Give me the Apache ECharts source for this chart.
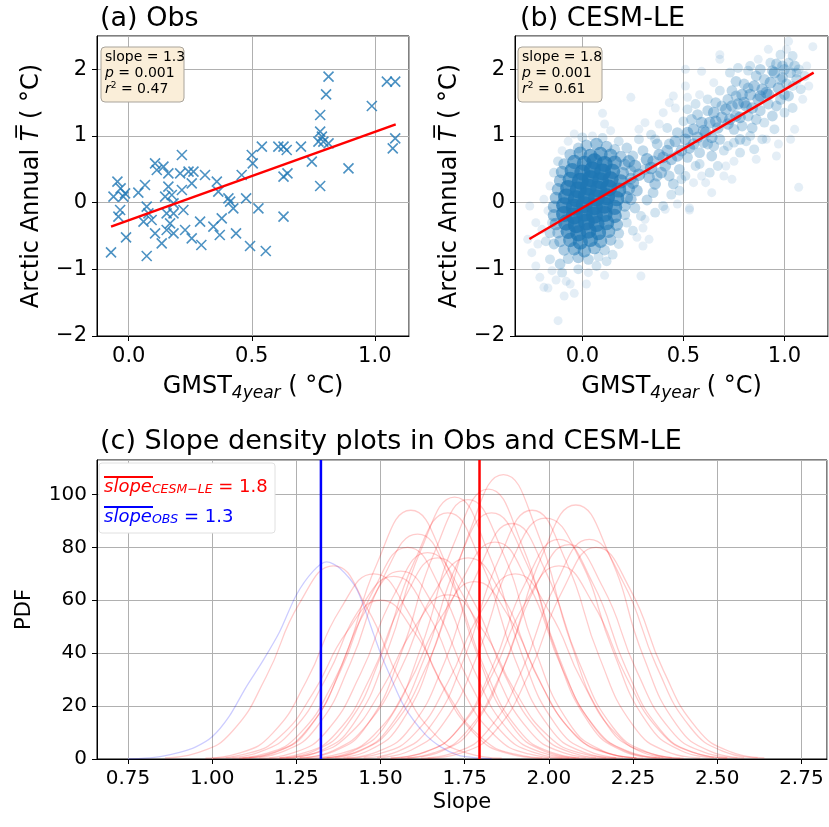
<!DOCTYPE html>
<html>
<head>
<meta charset="utf-8">
<script src="https://cdn.jsdelivr.net/npm/echarts@6/dist/echarts.min.js"></script>
<style>
html, body { margin: 0; padding: 0; background: #fff; }
#chart { width: 829px; height: 827px; }
</style>
</head>
<body>
<div id="chart"></div>
<script>
// (a) observations: GMST 4-year vs Arctic annual T anomaly
const obsX = [-0.072,-0.062,-0.046,-0.033,-0.022,-0.015,-0.035,-0.042,-0.011,0.039,0.066,0.073,0.080,0.060,0.093,0.073,0.107,0.114,0.141,0.107,0.134,0.148,0.154,0.168,0.182,0.154,0.161,0.175,0.182,0.216,0.209,0.216,0.222,0.229,0.243,0.256,0.256,0.263,0.290,0.295,0.310,0.344,0.358,0.364,0.370,0.378,0.405,0.412,0.425,0.436,0.459,0.477,0.493,0.500,0.504,0.527,0.541,0.557,0.608,0.629,0.642,0.629,0.629,0.645,0.700,0.744,0.771,0.778,0.778,0.785,0.778,0.791,0.802,0.812,0.812,0.893,0.988,1.049,1.083,1.073,1.083,0.161,0.182];
const obsY = [-0.745,0.09,0.315,0.215,0.09,0.14,-0.11,-0.21,-0.52,0.15,0.265,-0.06,-0.16,-0.285,-0.26,-0.80,0.59,0.49,0.54,-0.46,-0.61,0.09,-0.16,-0.31,-0.46,-0.41,0.44,0.115,-0.16,0.715,0.44,0.19,-0.11,-0.41,0.465,0.29,-0.535,0.465,-0.285,-0.635,0.415,-0.36,0.315,0.165,-0.485,-0.235,0.065,0.015,-0.085,-0.46,0.415,0.065,-0.65,0.715,0.59,-0.085,0.84,-0.725,0.84,0.84,0.79,-0.21,0.39,0.44,0.84,0.615,0.915,1.315,1.065,0.99,0.25,0.915,1.625,1.89,0.89,0.515,1.45,1.815,1.815,0.815,0.965,0.24,-0.01];
const obsFit = [[-0.072, -0.36], [1.085, 1.175]];

// (b) CESM-LE: [gmst, arctic T, how many members overlap there]
const cesmPoints = [
  [0.02,0.86,4],[0.07,0.88,5],[0.12,0.84,4],[-0.02,0.82,3],[0.16,0.80,3],
  [-0.06,0.72,4],[-0.01,0.74,6],[0.04,0.70,7],[0.09,0.73,7],[0.14,0.71,6],[0.19,0.69,4],
  [-0.09,0.58,4],[-0.04,0.61,7],[0.01,0.59,8],[0.06,0.62,9],[0.11,0.58,9],[0.16,0.60,7],[0.21,0.57,4],
  [-0.10,0.46,5],[-0.05,0.48,8],[0.00,0.45,9],[0.05,0.49,10],[0.10,0.46,10],[0.15,0.47,8],[0.20,0.44,5],[0.24,0.48,3],
  [-0.11,0.33,5],[-0.06,0.35,8],[-0.01,0.32,10],[0.04,0.36,10],[0.09,0.33,10],[0.14,0.35,9],[0.19,0.32,7],[0.24,0.36,4],
  [-0.12,0.20,5],[-0.07,0.22,9],[-0.02,0.19,10],[0.03,0.23,10],[0.08,0.20,10],[0.13,0.22,10],[0.18,0.19,8],[0.23,0.21,5],
  [-0.13,0.07,5],[-0.08,0.09,9],[-0.03,0.06,10],[0.02,0.10,10],[0.07,0.07,10],[0.12,0.09,10],[0.17,0.06,8],[0.22,0.08,5],
  [-0.14,-0.06,5],[-0.09,-0.04,9],[-0.04,-0.07,10],[0.01,-0.03,10],[0.06,-0.06,10],[0.11,-0.04,10],[0.16,-0.07,8],[0.21,-0.05,4],
  [-0.14,-0.19,5],[-0.09,-0.17,9],[-0.04,-0.20,10],[0.01,-0.16,10],[0.06,-0.19,10],[0.11,-0.17,9],[0.16,-0.20,7],[0.21,-0.18,3],
  [-0.13,-0.32,5],[-0.08,-0.30,9],[-0.03,-0.33,10],[0.02,-0.29,10],[0.07,-0.32,9],[0.12,-0.30,8],[0.17,-0.33,5],
  [-0.12,-0.45,4],[-0.07,-0.43,8],[-0.02,-0.46,9],[0.03,-0.42,9],[0.08,-0.45,8],[0.13,-0.43,6],[0.18,-0.46,3],
  [-0.11,-0.58,4],[-0.06,-0.56,7],[-0.01,-0.59,8],[0.04,-0.55,8],[0.09,-0.58,6],[0.14,-0.56,4],
  [-0.09,-0.71,4],[-0.04,-0.69,6],[0.01,-0.72,6],[0.06,-0.68,5],[0.11,-0.71,3],
  [-0.07,-0.84,3],[-0.02,-0.82,4],[0.03,-0.85,3],[0.08,-0.81,2],
  [-0.27,-0.55,1],[-0.25,-0.75,1],[-0.23,-0.95,1],[-0.22,-0.62,1],[-0.20,-0.40,1],[-0.19,-1.27,1],[-0.17,-1.28,1],
  [-0.21,-1.12,1],[-0.15,-1.02,1],[-0.13,-1.16,1],[-0.12,-1.77,1],[-0.09,-1.40,1],[-0.06,-1.22,1],[-0.04,-1.36,1],
  [-0.10,-1.05,2],[-0.16,-0.85,2],[-0.18,-0.58,2],[-0.15,-0.30,2],[-0.17,-0.12,1],[-0.19,0.05,1],[-0.16,0.25,1],
  [-0.14,0.45,2],[-0.12,0.62,2],[-0.10,0.78,1],[-0.07,0.92,1],[-0.23,-0.30,1],[-0.26,-0.05,1],[-0.02,-1.00,2],
  [0.03,-1.05,1],[0.07,-0.95,2],[0.12,-0.88,2],[0.15,-0.78,2],[0.18,-0.62,2],[0.02,-1.22,1],[0.11,-1.09,1],
  [-0.08,-1.18,1],[-0.11,-0.92,3],[-0.14,-0.62,3],[-0.16,-0.45,3],
  [0.00,0.98,2],[0.05,1.00,1],[0.10,0.97,2],[-0.04,1.03,1],[0.14,1.08,1],[0.18,0.92,2],[0.22,0.82,3],[0.25,0.70,3],
  [0.23,0.62,5],[0.26,0.55,5],[0.28,0.42,5],[0.25,0.30,5],[0.27,0.18,4],[0.24,0.05,4],[0.26,-0.08,3],[0.29,-0.20,2],
  [0.28,0.95,2],[0.30,0.78,3],[0.22,-0.30,2],[0.25,-0.42,2],[0.27,-0.52,1],[0.30,-0.38,1],[0.31,1.20,1],[0.28,1.10,1],
  [0.32,0.65,5],[0.34,0.52,5],[0.33,0.38,4],[0.36,0.28,4],[0.35,0.15,3],[0.32,0.04,3],[0.38,0.72,4],[0.37,0.88,3],
  [0.39,0.45,4],[0.34,1.02,2],[0.40,-0.05,2],[0.36,-0.15,2],[0.31,-0.25,1],[0.38,1.18,1],[0.30,-0.65,1],[0.33,-0.55,1],
  [0.31,0.50,3],[0.35,0.62,4],[0.37,0.40,3],[0.40,0.68,4],[0.43,0.88,3],[0.47,0.70,4],[0.49,0.35,2],[0.36,0.95,2],
  [0.42,0.78,4],[0.44,0.65,4],[0.41,0.55,4],[0.46,0.92,4],[0.48,0.50,3],[0.43,0.40,3],[0.45,0.28,3],[0.47,1.05,3],
  [0.42,1.12,2],[0.49,0.78,4],[0.44,0.12,2],[0.48,0.18,2],[0.50,1.22,2],[0.40,1.35,1],[0.43,1.50,1],[0.46,1.42,1],
  [0.41,-0.10,1],[0.47,-0.02,1],[0.45,1.60,1],
  [0.51,0.95,4],[0.53,0.82,4],[0.52,0.68,3],[0.55,1.10,4],[0.57,0.98,4],[0.54,1.25,3],[0.58,0.75,3],[0.56,0.55,2],
  [0.59,1.20,4],[0.52,1.40,2],[0.56,1.48,2],[0.60,0.90,3],[0.51,0.40,2],[0.55,0.30,1],[0.53,-0.08,1],[0.58,1.62,1],
  [0.52,1.58,1],[0.59,0.40,1],[0.51,2.00,1],
  [0.52,1.05,4],[0.55,0.88,4],[0.57,1.32,3],[0.60,1.08,4],[0.62,1.38,3],[0.64,0.98,4],[0.66,1.22,4],[0.69,1.45,3],
  [0.58,0.58,2],[0.65,0.85,3],
  [0.61,1.05,4],[0.63,1.20,4],[0.62,0.88,3],[0.65,1.35,4],[0.67,1.12,4],[0.64,0.70,3],[0.68,0.95,3],[0.66,1.50,3],
  [0.69,1.28,4],[0.62,1.55,2],[0.68,1.68,2],[0.70,0.78,2],[0.63,0.45,2],[0.67,0.55,2],[0.61,0.30,1],[0.68,2.22,1],
  [0.65,1.80,1],[0.70,0.40,1],[0.64,0.15,1],
  [0.71,1.40,4],[0.73,1.25,4],[0.72,1.55,3],[0.75,1.10,3],[0.74,1.68,3],[0.77,1.48,4],[0.76,1.30,4],[0.79,1.62,4],
  [0.78,0.95,3],[0.72,0.85,2],[0.76,1.82,3],[0.73,1.95,2],[0.79,1.15,3],[0.80,1.78,3],[0.71,0.55,1],[0.75,0.62,1],
  [0.77,2.02,2],[0.74,0.35,1],[0.78,0.75,2],
  [0.72,1.18,4],[0.74,1.45,4],[0.76,1.60,3],[0.78,1.28,4],[0.80,1.50,4],[0.82,1.72,3],[0.84,1.42,4],[0.86,1.25,3],
  [0.88,1.60,4],[0.75,0.90,2],[0.83,1.00,2],
  [0.81,1.45,4],[0.83,1.62,4],[0.82,1.30,3],[0.85,1.75,4],[0.84,1.12,3],[0.87,1.55,4],[0.86,1.90,3],[0.88,1.38,3],
  [0.89,1.70,4],[0.81,0.92,2],[0.85,0.80,2],[0.88,2.00,3],[0.83,2.05,2],[0.90,1.20,2],[0.86,0.65,1],[0.89,0.95,2],
  [0.82,1.98,2],[0.87,2.15,1],
  [0.91,1.65,4],[0.93,1.80,4],[0.92,1.48,3],[0.95,1.95,4],[0.94,1.30,3],[0.97,1.72,4],[0.96,2.08,3],[0.98,1.55,3],
  [0.99,1.88,3],[0.93,2.10,2],[0.95,1.10,2],[0.97,0.88,1],[0.91,0.95,1],[1.00,2.00,3],[0.98,2.22,2],[0.92,2.30,1],
  [1.00,1.35,2],[0.96,0.70,1],
  [0.90,1.85,3],[0.92,1.62,4],[0.94,1.98,3],[0.96,1.45,3],[0.98,1.85,3],[1.00,1.62,3],[1.02,2.10,2],[1.04,1.75,2],
  [1.06,1.95,2],[0.99,2.05,3],
  [1.01,1.78,3],[1.03,1.95,3],[1.02,1.60,3],[1.05,2.05,3],[1.04,1.42,2],[1.06,1.85,3],[1.08,1.70,2],[1.07,2.00,2],
  [1.02,2.42,1],[1.04,2.20,2],[1.09,1.55,1],[1.10,1.90,2],[1.12,1.75,1],[1.11,2.05,1],[1.14,2.34,1],[1.07,0.23,1],
  [1.05,1.10,1],[1.03,0.95,1],[1.01,2.30,1],
  [0.29,-1.10,1],[0.53,-0.11,1],[0.24,1.58,1],[0.10,1.34,1],[0.11,1.18,1],[0.51,1.75,1],[0.68,2.15,1],[0.59,1.97,1]
];
const cesmFit = [[-0.262, -0.545], [1.144, 1.95]];

// (c) slope densities
const obsPdf = [[0.75,0],[0.80,0.3],[0.85,1.0],[0.90,2.4],[0.95,4.5],[1.00,8.4],[1.05,16],[1.10,27],[1.15,37],[1.20,48],
  [1.25,62],[1.30,71],[1.34,74.5],[1.38,72],[1.43,64],[1.48,47],[1.50,40],[1.53,31],[1.57,20],[1.63,9.7],[1.68,4.5],
  [1.73,1.5],[1.78,0.5],[1.83,0.1]];
const slopeStep = 0.1;
const memberStart = [0.86,0.98,1.04,1.06,1.08,1.09,1.11,1.14,1.17,1.20,1.22,1.26,1.26,1.28,1.32,1.33,1.34,1.365,1.39,1.45,1.49,1.53,1.53,1.56,1.58,1.62,1.64,1.20,1.00,1.40];
const memberPdf = [
  [0.4,2.5,10.5,31,59,73,57,29,9.5,2.1,0.3],
  [0.3,2.2,9.8,29.5,56.5,70,56,28.5,9.4,2.0,0.3],
  [0.4,2.6,11,31,57,69,55,27,8.8,1.9,0.3],
  [0.3,2.1,9.6,29,57,71,57.5,30,10.2,2.3,0.3],
  [0.3,2.4,10.8,33,64,80,64,33,10.8,2.4,0.3],
  [0.3,2.6,12,37,74,94,75,38.5,12.7,2.8,0.4],
  [0.4,2.8,12,36,69,85,67,34,11,2.4,0.3],
  [0.3,2.3,10.5,32,62,78,63,33,11,2.5,0.4],
  [0.3,2.2,10,31,60.5,76,61,31.5,10.5,2.3,0.3],
  [0.4,2.9,12.8,38.5,74.5,93,74,37.5,12.2,2.7,0.4],
  [0.4,3.0,13.4,40.6,79,99,78,39.5,13,2.9,0.4],
  [0.4,2.8,12.8,39.5,78,98,79,41,13.6,3.1,0.4],
  [0.5,3.2,13,34,63,76,62,33,11.5,2.8,0.5],
  [0.3,2.0,9,27.5,53.5,67,54,27.5,9,2,0.3],
  [0.4,3.1,13.8,42,82,102,81,41,13.5,3,0.4],
  [0.4,2.8,12.6,38,74.5,93,75,38.5,12.8,2.9,0.4],
  [0.5,3.1,13,36,67,82,66,34,11.5,2.7,0.4],
  [0.4,3.2,14.5,44,86,107.5,86,44,14.5,3.2,0.4],
  [0.3,2.7,12,36.5,71,89,71,36.5,12,2.7,0.3],
  [0.4,2.8,12.7,38.5,75,94,75,38.5,12.7,2.8,0.4],
  [0.5,3.3,14,40,75,91,76,41,14,3.3,0.5],
  [0.3,2.5,11.2,34,66.5,83,66.5,34,11.2,2.5,0.3],
  [0.4,2.6,11,31.5,59,73,59,31,10.5,2.4,0.4],
  [0.3,2.4,11,33,65,81,65,33.5,11.2,2.6,0.4],
  [0.4,2.9,13,39.5,77,96,77,39,12.8,2.9,0.4],
  [0.3,2.4,11,33.5,66,83,67,35,12,2.8,0.4],
  [0.3,2.3,10.5,32,63.5,80,64.5,33.5,11.5,2.7,0.4],
  [0.3,2.0,8.5,25.5,49.5,62,49.5,25.5,8.5,2,0.3],
  [0.3,1.9,8.3,25,48,60,48,24.5,8,1.8,0.3],
  [0.3,2.1,9.4,29,56,70,56,29,9.4,2.1,0.3]
];
const slopeObs = 1.323;
const slopeCesm = 1.794;

const FONT = 'DejaVu Sans';
const minus = v => String(v).replace('-', '\u2212');

function axisBase(extra) {
  return Object.assign({
    type: 'value',
    axisLine: { show: true, onZero: false, lineStyle: { color: '#000', width: 1 } },
    axisTick: { show: true, length: 5, lineStyle: { color: '#000' } },
    splitLine: { show: true, lineStyle: { color: '#b0b0b0', width: 1 } },
    axisLabel: { color: '#000', fontSize: 21, fontFamily: FONT, margin: 10, showMinLabel: false, showMaxLabel: false },
    nameLocation: 'middle',
    nameTextStyle: { color: '#000', fontSize: 24, fontFamily: FONT,
      rich: {
        sub: { fontSize: 17, fontStyle: 'italic', fontFamily: FONT, verticalAlign: 'bottom', lineHeight: 30 },
        n: { fontSize: 24, fontFamily: FONT, lineHeight: 30 },
        it: { fontSize: 24, fontStyle: 'italic', fontFamily: FONT, lineHeight: 30 }
      } }
  }, extra);
}
function labels(extra) {
  return Object.assign({}, axisBase().axisLabel, extra);
}

const gmstName = '{n|GMST}{sub|4year}{n| ( °C)}';
const arcticName = '{n|Arctic Annual }{it|T\u0305}{n| ( °C)}';

const chart = echarts.init(document.getElementById('chart'));

const series = [
  {
    type: 'scatter', xAxisIndex: 0, yAxisIndex: 0,
    data: obsX.map((x, i) => [x, obsY[i]]),
    symbol: 'path://M0,0L10,10M10,0L0,10', symbolSize: 10,
    itemStyle: { color: 'none', borderColor: '#1f77b4', borderWidth: 1.6 }
  },
  {
    type: 'line', xAxisIndex: 0, yAxisIndex: 0, data: obsFit, showSymbol: false,
    lineStyle: { color: '#ff0000', width: 2.5 }
  },
  {
    type: 'scatter', xAxisIndex: 1, yAxisIndex: 1, data: cesmPoints, symbolSize: 10,
    itemStyle: { color: '#1f77b4' }
  },
  {
    type: 'line', xAxisIndex: 1, yAxisIndex: 1, data: cesmFit, showSymbol: false,
    lineStyle: { color: '#ff0000', width: 2.5 }
  },
  {
    type: 'line', xAxisIndex: 2, yAxisIndex: 2, data: obsPdf, showSymbol: false, smooth: 0.3,
    lineStyle: { color: 'rgba(0,0,255,0.2)', width: 1.3 }
  }
];
memberPdf.forEach((ys, k) => {
  series.push({
    type: 'line', xAxisIndex: 2, yAxisIndex: 2, showSymbol: false, smooth: 0.5,
    data: ys.map((y, i) => [memberStart[k] + i * slopeStep, y]),
    lineStyle: { color: 'rgba(255,0,0,0.2)', width: 1.3 }
  });
});
series.push({
  type: 'line', xAxisIndex: 2, yAxisIndex: 2, showSymbol: false,
  data: [[slopeObs, 0], [slopeObs, 113]], lineStyle: { color: '#0000ff', width: 2.5 }
});
series.push({
  type: 'line', xAxisIndex: 2, yAxisIndex: 2, showSymbol: false,
  data: [[slopeCesm, 0], [slopeCesm, 113]], lineStyle: { color: '#ff0000', width: 2.5 }
});

const titleStyle = { fontSize: 27, fontWeight: 'normal', fontFamily: FONT, color: '#000' };
const boxRich = {
  n: { fontSize: 14, fontFamily: FONT, lineHeight: 16 },
  i: { fontSize: 14, fontStyle: 'italic', fontFamily: FONT, lineHeight: 16 },
  s: { fontSize: 9, fontFamily: FONT, verticalAlign: 'top', lineHeight: 16 }
};
const legRich = {
  it: { fontSize: 18, fontStyle: 'italic', fontFamily: FONT, lineHeight: 22, verticalAlign: 'bottom' },
  sub: { fontSize: 12.5, fontStyle: 'italic', fontFamily: FONT, lineHeight: 16, verticalAlign: 'bottom' },
  n: { fontSize: 18, fontFamily: FONT, lineHeight: 22, verticalAlign: 'bottom' }
};

const option = {
  animation: false,
  backgroundColor: '#fff',
  title: [
    { text: '(a) Obs', left: 95, top: 0, textStyle: titleStyle },
    { text: '(b) CESM-LE', left: 515, top: 0, textStyle: titleStyle },
    { text: '(c) Slope density plots in Obs and CESM-LE', left: 95, top: 423, textStyle: titleStyle }
  ],
  grid: [
    { left: 97, top: 36, width: 312, height: 300, show: true, borderColor: '#000', borderWidth: 1 },
    { left: 515, top: 36, width: 313, height: 300, show: true, borderColor: '#000', borderWidth: 1 },
    { left: 97, top: 460, width: 730, height: 299, show: true, borderColor: '#000', borderWidth: 1 }
  ],
  xAxis: [
    axisBase({ gridIndex: 0, min: -0.129, max: 1.139, minInterval: 0.5, maxInterval: 0.5,
      name: gmstName, nameGap: 36, axisLabel: labels({ formatter: v => minus(v.toFixed(1)) }) }),
    axisBase({ gridIndex: 1, min: -0.333, max: 1.215, minInterval: 0.5, maxInterval: 0.5,
      name: gmstName, nameGap: 36, axisLabel: labels({ formatter: v => minus(v.toFixed(1)) }) }),
    axisBase({ gridIndex: 2, min: 0.658, max: 2.826, minInterval: 0.25, maxInterval: 0.25,
      name: 'Slope', nameGap: 33, nameTextStyle: { color: '#000', fontSize: 21, fontFamily: FONT },
      axisLabel: labels({ fontSize: 20, formatter: v => v.toFixed(2) }) })
  ],
  yAxis: [
    axisBase({ gridIndex: 0, min: -2, max: 2.5, interval: 1, name: arcticName, nameGap: 50, nameRotate: 90,
      axisLabel: labels({ showMinLabel: true, formatter: v => minus(v) }) }),
    axisBase({ gridIndex: 1, min: -2, max: 2.5, interval: 1, name: arcticName, nameGap: 50, nameRotate: 90,
      axisLabel: labels({ showMinLabel: true, formatter: v => minus(v) }) }),
    axisBase({ gridIndex: 2, min: 0, max: 113, interval: 20, name: 'PDF', nameGap: 62, nameRotate: 90,
      nameTextStyle: { color: '#000', fontSize: 21, fontFamily: FONT },
      axisLabel: labels({ showMinLabel: true, fontSize: 20 }) })
  ],
  visualMap: [{
    type: 'continuous', show: false, seriesIndex: 2, dimension: 2, min: 1, max: 10,
    inRange: { color: ['#1f77b4', '#1f77b4'], opacity: [0.12, 0.85], symbolSize: [9, 17] }
  }],
  graphic: [
    { type: 'rect', shape: { x: 101, y: 47, width: 83, height: 55, r: 4 }, z: 100,
      style: { fill: '#faeed9', stroke: '#a9a49b', lineWidth: 1 } },
    { type: 'text', left: 105, top: 50, z: 101,
      style: { text: '{n|slope = 1.3}\n{i|p}{n| = 0.001}\n{i|r}{s|2}{n| = 0.47}', fill: '#000', rich: boxRich } },
    { type: 'rect', shape: { x: 518, y: 47, width: 84, height: 55, r: 4 }, z: 100,
      style: { fill: '#faeed9', stroke: '#a9a49b', lineWidth: 1 } },
    { type: 'text', left: 522, top: 50, z: 101,
      style: { text: '{n|slope = 1.8}\n{i|p}{n| = 0.001}\n{i|r}{s|2}{n| = 0.61}', fill: '#000', rich: boxRich } },
    { type: 'rect', shape: { x: 99, y: 463, width: 176, height: 70, r: 3 }, z: 100,
      style: { fill: '#fff', stroke: '#e0e0e0', lineWidth: 1 } },
    { type: 'text', left: 104, top: 478, z: 101,
      style: { text: '{it|slope}{sub|CESM\u2212LE}{n| = 1.8}', fill: '#ff0000', rich: legRich } },
    { type: 'text', left: 104, top: 508, z: 101,
      style: { text: '{it|slope}{sub|OBS}{n| = 1.3}', fill: '#0000ff', rich: legRich } },
    { type: 'line', z: 101, shape: { x1: 104, y1: 477, x2: 153, y2: 477 }, style: { stroke: '#ff0000', lineWidth: 2 } },
    { type: 'line', z: 101, shape: { x1: 104, y1: 507, x2: 153, y2: 507 }, style: { stroke: '#0000ff', lineWidth: 2 } }
  ],
  series: series
};

chart.setOption(option);
</script>
</body>
</html>
